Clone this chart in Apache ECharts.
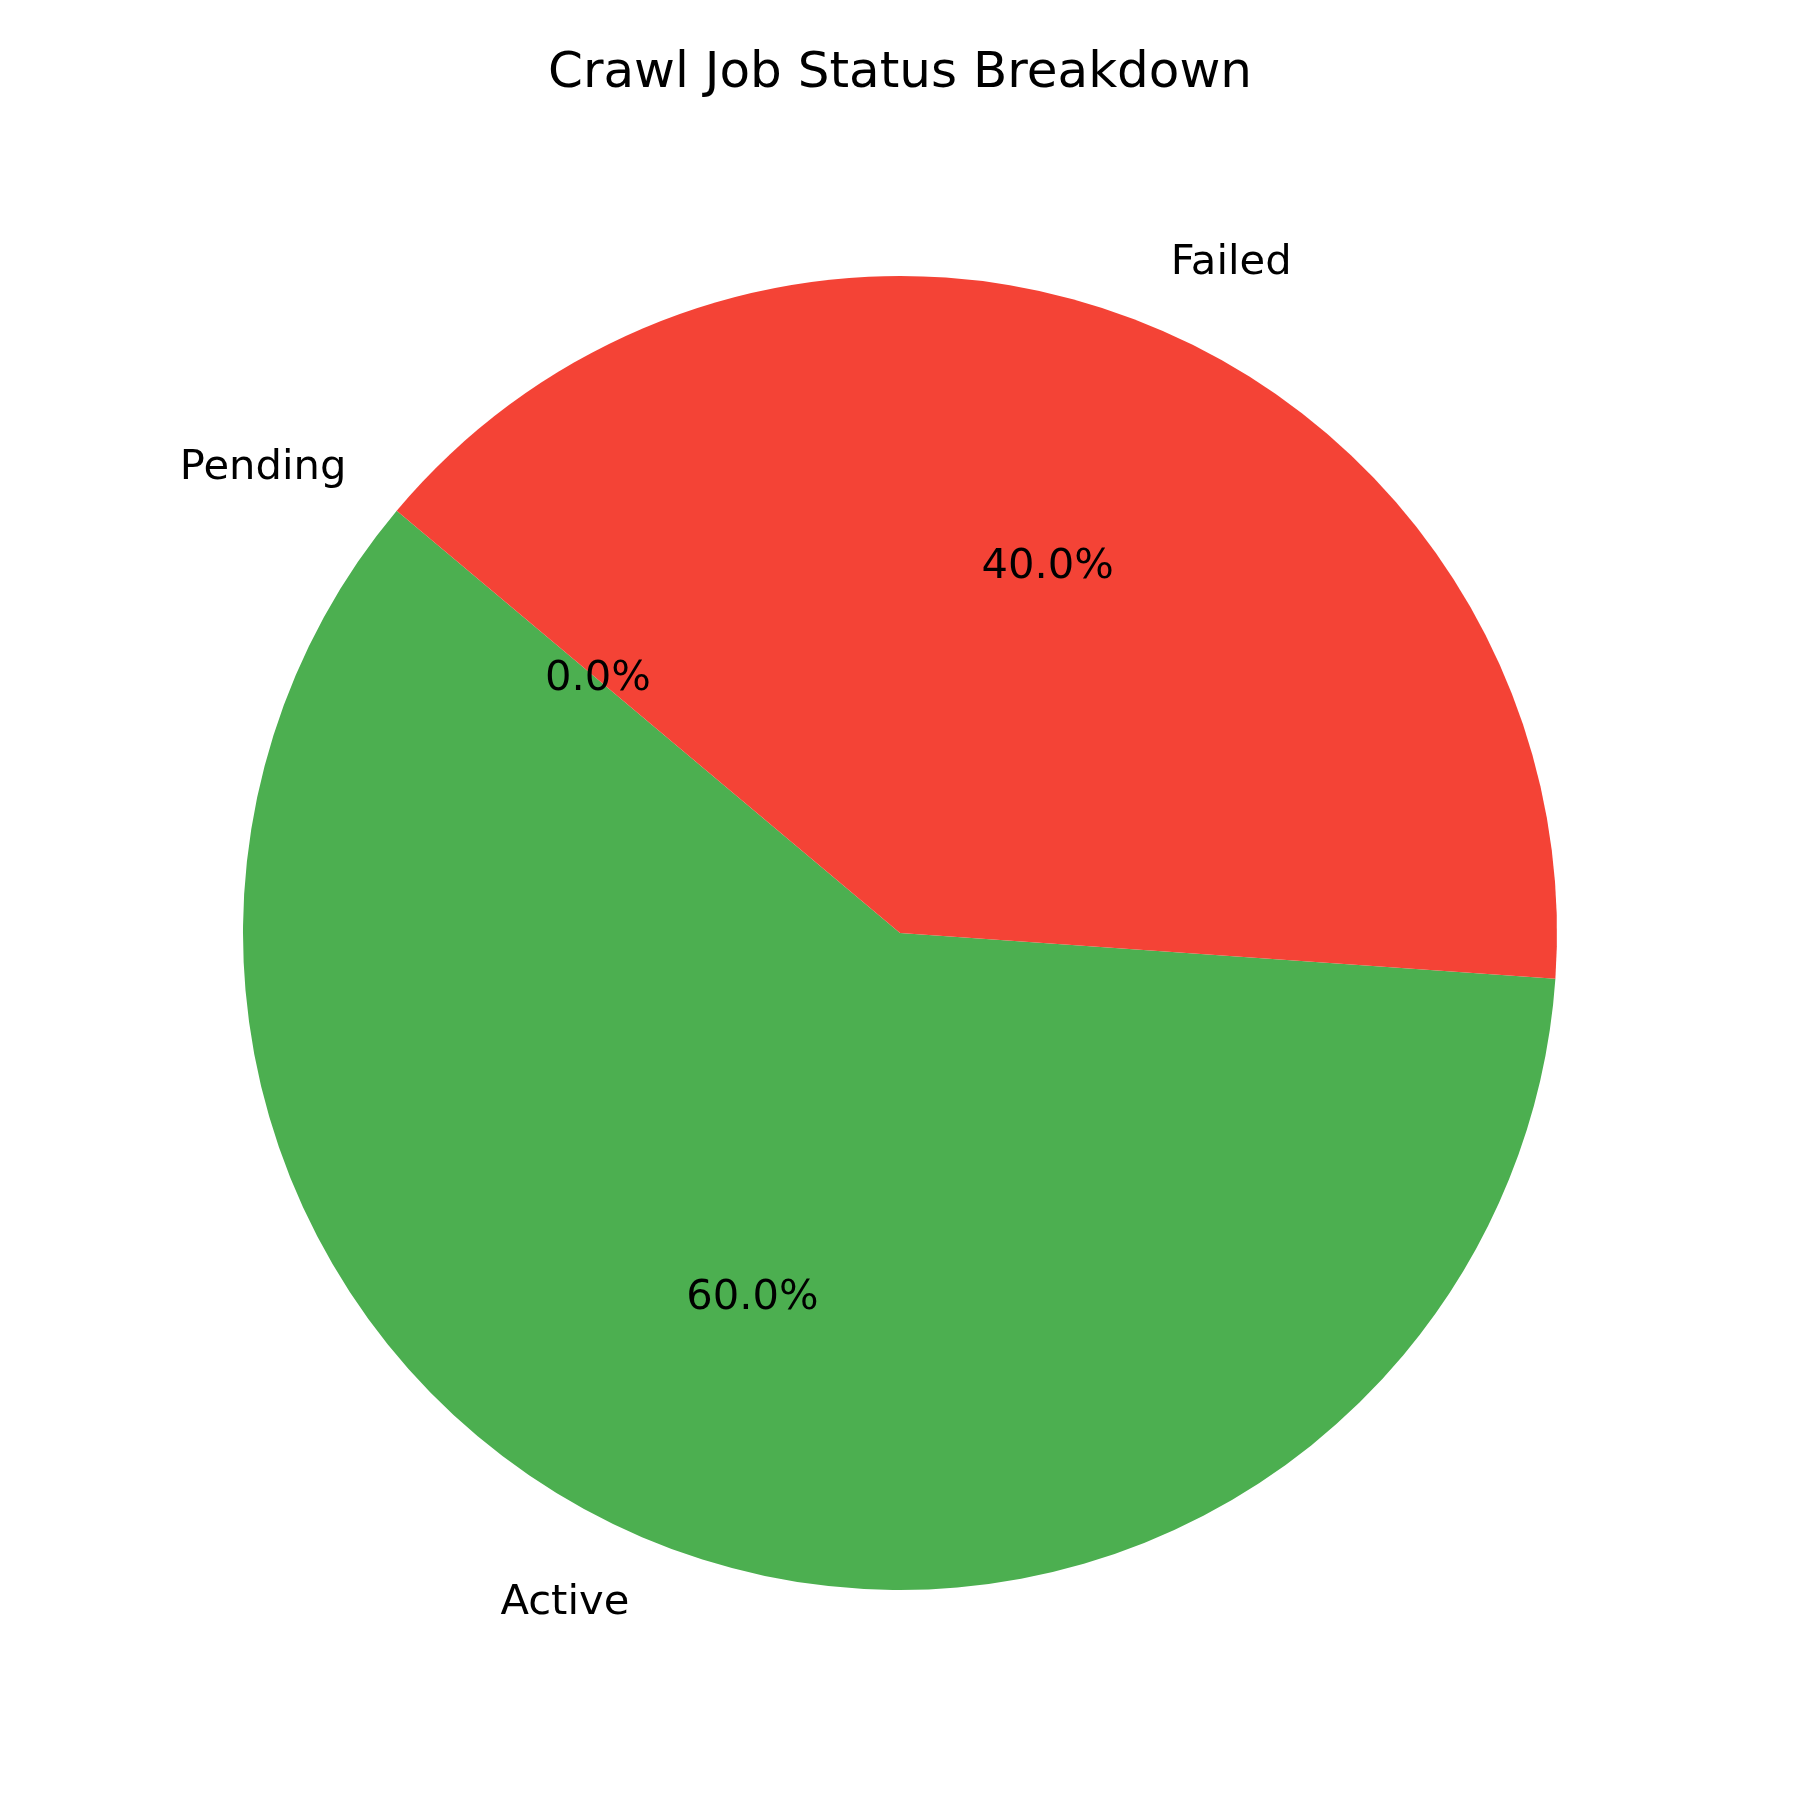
<!DOCTYPE html>
<html>
<head>
<meta charset="utf-8">
<script src="https://cdn.jsdelivr.net/npm/echarts@6/dist/echarts.min.js"></script>
<style>html,body{margin:0;padding:0;background:#fff;}#c{width:1800px;height:1800px;}</style>
</head>
<body>
<div id="c"></div>
<script>
const categories = ['Active', 'Failed', 'Pending'];
const values = [3, 2, 0];
const colors = ['#4CAF50', '#F44336', '#FFC107'];
const titleText = 'Crawl Job Status Breakdown';

const total = values.reduce((a, b) => a + b, 0);
const R = 657;
const font = 'DejaVu Sans';
const data = categories.map((c, i) => ({ name: c, value: values[i] }));

const chart = echarts.init(document.getElementById('c'), null, { renderer: 'canvas' });
chart.setOption({
  backgroundColor: '#ffffff',
  animation: false,
  color: colors,
  title: {
    text: titleText,
    left: 'center',
    top: 44,
    textStyle: { fontFamily: font, fontSize: 50, fontWeight: 'normal', color: '#000' }
  },
  series: [
    {
      type: 'pie',
      center: [900, 933],
      radius: [0, R],
      startAngle: 140,
      clockwise: false,
      avoidLabelOverlap: false,
      silent: true,
      itemStyle: { borderWidth: 0 },
      label: {
        show: true,
        position: 'outside',
        formatter: '{b}',
        fontFamily: font,
        fontSize: 41.67,
        color: '#000',
        distanceToLabelLine: 0
      },
      labelLine: { show: false, length: R * 0.1, length2: 0 },
      data: data
    },
    {
      type: 'pie',
      center: [900, 933],
      radius: [0, R * 1.2 - 6],
      startAngle: 140,
      clockwise: false,
      avoidLabelOverlap: false,
      silent: true,
      itemStyle: { color: 'rgba(0,0,0,0)', borderWidth: 0 },
      label: {
        show: true,
        position: 'inside',
        formatter: (p) => (p.value / total * 100).toFixed(1) + '%',
        fontFamily: font,
        fontSize: 41.67,
        color: '#000'
      },
      labelLine: { show: false },
      data: data
    }
  ]
});
</script>
</body>
</html>
